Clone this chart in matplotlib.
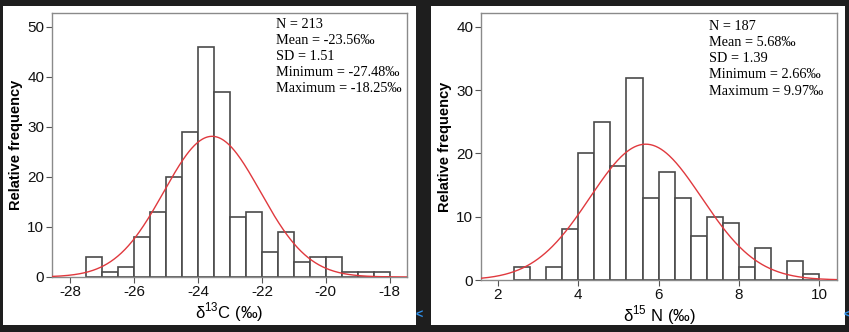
import matplotlib
matplotlib.use('agg')
import matplotlib.pyplot as plt
import matplotlib.patches as mpatches
import numpy as np

plt.rcParams['font.family'] = ['Liberation Sans', 'DejaVu Sans']
plt.rcParams['mathtext.fontset'] = 'custom'
plt.rcParams['mathtext.rm'] = 'Liberation Sans'
plt.rcParams['axes.unicode_minus'] = False

# carbon isotope histogram (0.5 permil bins from -27.5)
c13_counts = [4, 1, 2, 8, 13, 20, 29, 46, 37, 12, 13, 5, 9, 3, 4, 4, 1, 1, 1]
c13_first_edge = -27.5
c13_bin_width = 0.5
c13_n, c13_mean, c13_sd = 213, -23.56, 1.51
c13_min, c13_max = -27.48, -18.25
c13_xticks = [-28, -26, -24, -22, -20, -18]
c13_yticks = [0, 10, 20, 30, 40, 50]

# nitrogen isotope histogram (0.4 permil bins from 2.4)
n15_counts = [2, 0, 2, 8, 20, 25, 18, 32, 13, 17, 13, 7, 10, 9, 2, 5, 0, 3, 1]
n15_first_edge = 2.4
n15_bin_width = 0.4
n15_n, n15_mean, n15_sd = 187, 5.68, 1.39
n15_min, n15_max = 2.66, 9.97
n15_xticks = [2, 4, 6, 8, 10]
n15_yticks = [0, 10, 20, 30, 40]

W, H = 849, 332
fig = plt.figure(figsize=(W / 100, H / 100), dpi=100)
fig.patch.set_facecolor('#1e1e1e')


def px_rect(x0, y0, x1, y1):
    """Convert a pixel box (top-left origin) to figure fractions."""
    return [x0 / W, 1 - y1 / H, (x1 - x0) / W, (y1 - y0) / H]


# white card behind each panel
for x0, x1 in [(3, 416), (431, 845)]:
    l, b, w, h = px_rect(x0, 6, x1, 325)
    fig.patches.append(mpatches.Rectangle((l, b), w, h, transform=fig.transFigure,
                                          facecolor='white', edgecolor='none', zorder=-5))


def draw_panel(rect, counts, first_edge, bw, n, mean, sd, vmin, vmax,
               xlim, ylim, xticks, yticks, xlabel, unit_fmt):
    ax = fig.add_axes(rect)
    ax.set_zorder(1)
    ax.set_facecolor('white')
    lefts = first_edge + bw * np.arange(len(counts))
    ax.bar(lefts, counts, width=bw, align='edge', facecolor='white',
           edgecolor='#4a4a4a', linewidth=1.2, zorder=2)

    # fitted normal curve scaled to counts
    xx = np.linspace(xlim[0], xlim[1], 400)
    yy = n * bw / (sd * np.sqrt(2 * np.pi)) * np.exp(-0.5 * ((xx - mean) / sd) ** 2)
    ax.plot(xx, yy, color='#e0393e', linewidth=1.0, zorder=3)

    ax.set_xlim(*xlim)
    ax.set_ylim(*ylim)
    ax.set_xticks(xticks)
    ax.set_yticks(yticks)
    ax.tick_params(labelsize=11, length=4, width=0.8, color='#555555', pad=1.5,
                   labelcolor='#111111')
    for s in ax.spines.values():
        s.set_color('#8a8a8a')
        s.set_linewidth(1.0)
    ax.set_ylabel('Relative frequency', fontsize=10.5, fontweight='bold', labelpad=3)
    ax.set_xlabel(xlabel, fontsize=12, labelpad=1)

    lines = ['N = %d' % n,
             'Mean = ' + unit_fmt % mean + '‰',
             'SD = %.2f' % sd,
             'Minimum = ' + unit_fmt % vmin + '‰',
             'Maximum = ' + unit_fmt % vmax + '‰']
    return ax, lines


ax1, txt1 = draw_panel(px_rect(52, 13, 407, 277), c13_counts, c13_first_edge, c13_bin_width,
                       c13_n, c13_mean, c13_sd, c13_min, c13_max,
                       (-28.57, -17.46), (0, 52.8), c13_xticks, c13_yticks,
                       r'δ$^{\mathregular{13}}$C (‰)', '%.2f')
ax2, txt2 = draw_panel(px_rect(481, 13, 837, 280), n15_counts, n15_first_edge, n15_bin_width,
                       n15_n, n15_mean, n15_sd, n15_min, n15_max,
                       (1.58, 10.44), (0, 42.2), n15_xticks, n15_yticks,
                       r'δ$^{\mathregular{15}}$ N (‰)', '%.2f')

# summary statistics, one line each
for x0, y0, lines in [(276, 25, txt1), (709, 27, txt2)]:
    for i, line in enumerate(lines):
        fig.text(x0 / W, 1 - (y0 + 16 * i) / H, line, fontsize=10.3, zorder=5,
                 family=['Liberation Serif', 'DejaVu Serif'], va='center', ha='left')

# little scroll markers at the card edges
for x in [419, 847]:
    fig.text(x / W, 1 - 316 / H, '<', color='#2f8fe8', fontsize=9,
             fontweight='bold', ha='center', va='center')

fig.savefig('out.png', dpi=100, facecolor=fig.get_facecolor())
